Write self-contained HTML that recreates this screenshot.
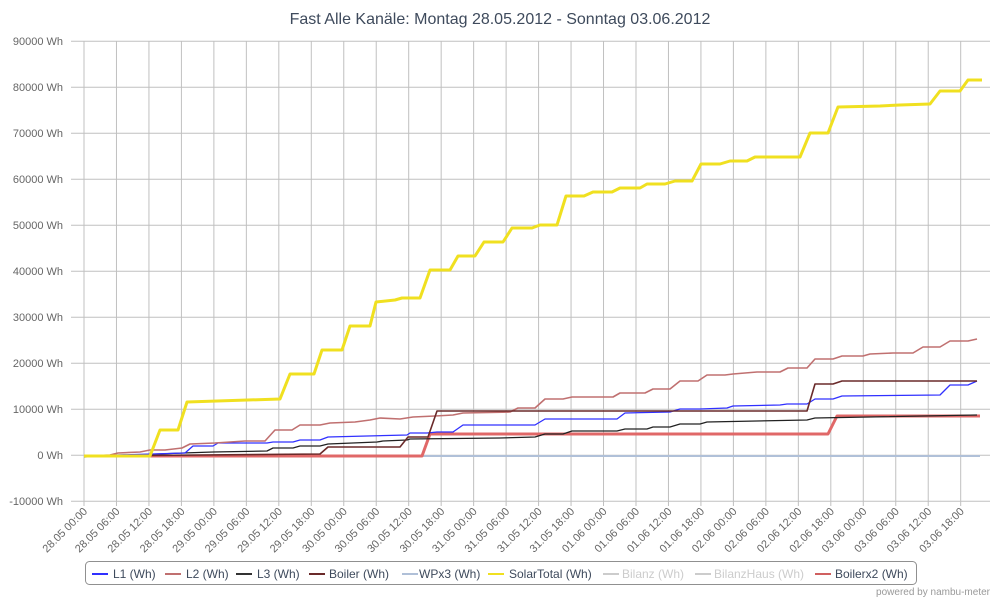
<!DOCTYPE html>
<html><head><meta charset="utf-8"><style>body{margin:0;background:#fff}svg{display:block;font-family:"Liberation Sans",sans-serif}</style></head><body>
<svg width="1000" height="600" xmlns="http://www.w3.org/2000/svg">
<text x="500" y="24" text-anchor="middle" font-size="16" fill="#3e4a5c">Fast Alle Kanäle: Montag 28.05.2012 - Sonntag 03.06.2012</text>
<g stroke="#c0c0c0" stroke-width="1">
<line x1="71" x2="990" y1="41.3" y2="41.3"/><line x1="71" x2="990" y1="87.3" y2="87.3"/><line x1="71" x2="990" y1="133.3" y2="133.3"/><line x1="71" x2="990" y1="179.3" y2="179.3"/><line x1="71" x2="990" y1="225.3" y2="225.3"/><line x1="71" x2="990" y1="271.3" y2="271.3"/><line x1="71" x2="990" y1="317.3" y2="317.3"/><line x1="71" x2="990" y1="363.3" y2="363.3"/><line x1="71" x2="990" y1="409.3" y2="409.3"/><line x1="71" x2="990" y1="455.3" y2="455.3"/><line x1="71" x2="990" y1="501.3" y2="501.3"/>
</g>
<g id="vg" stroke="#c0c0c0" stroke-width="1"></g>
<g font-size="11" fill="#666" text-anchor="end">
<text x="63" y="45">90000 Wh</text><text x="63" y="91">80000 Wh</text><text x="63" y="137">70000 Wh</text><text x="63" y="183">60000 Wh</text><text x="63" y="229">50000 Wh</text><text x="63" y="275">40000 Wh</text><text x="63" y="321">30000 Wh</text><text x="63" y="367">20000 Wh</text><text x="63" y="413">10000 Wh</text><text x="63" y="459">0 Wh</text><text x="63" y="505">-10000 Wh</text>
</g>
<g id="xl" font-size="11" fill="#666" text-anchor="end"></g>
<g fill="none" stroke-linejoin="round">
<polyline stroke="#b0c0d8" stroke-width="2" points="84,456 980,456"/>
<polyline stroke="#e06868" stroke-width="3" points="84,456 422,456 430,434 828,434 837,416 980,416"/>
<polyline stroke="#222" stroke-width="1.3" points="84,457 183,453 213,452 267,451 273,448 293,448 300,446 320,446 328,444 377,442 383,441 407,440 410,439 500,438 535,437 545,434 563,434 572,431 617,431 625,429 647,429 653,427 670,427 680,424 700,424 707,422 807,420 815,418 977,415"/>
<polyline stroke="#3030ff" stroke-width="1.3" points="84,456 185,453 193,446 213,446 218,443 267,443 273,442 293,442 300,440 320,440 328,437 407,435 410,433 427,433 437,432 453,432 463,425 535,425 545,419 617,419 625,413 670,412 680,409 700,409 727,408 733,406 780,405 787,404 807,404 815,399 833,399 842,396 940,395 950,385 968,385 977,381"/>
<polyline stroke="#c07070" stroke-width="1.6" points="84,456 110,455 118,453 140,452 150,450 165,450 182,448 190,444 215,443 245,441 265,441 275,430 292,430 300,425 320,425 330,423 355,422 370,420 380,418 400,419 413,417 435,416 453,415 463,413 510,412 518,408 535,408 545,399 563,399 572,397 613,397 620,393 645,393 653,389 670,389 680,381 698,381 707,375 725,375 733,374 757,372 780,372 788,368 807,368 815,359 833,359 842,356 863,356 870,354 893,353 913,353 923,347 940,347 950,341 968,341 977,339"/>
<polyline stroke="#6a2a2a" stroke-width="1.6" points="84,456 320,454 328,447 400,447 408,437 428,437 437,411 807,411 815,384 833,384 842,381 977,381"/>
<polyline stroke="#f0e020" stroke-width="3" points="84,456 150,456 160,430 178,430 187,402 280,399 290,374 314,374 322,350 342,350 350,326 370,326 376,302 395,300 402,298 420,298 430,270 450,270 458,256 475,256 484,242 503,242 512,228 532,228 540,225 557,225 566,196 584,196 593,192 612,192 620,188 640,188 647,184 665,184 675,181 692,181 701,164 720,164 730,161 747,161 755,157 800,157 810,133 828,133 838,107 880,106 900,105 930,104 940,91 960,91 968,80 982,80"/>
</g>
<rect x="85.5" y="561.5" width="831" height="23" rx="4" fill="none" stroke="#909090"/>
<g font-size="12" fill="#3e4a5c">
<line x1="92" x2="108" y1="574" y2="574" stroke="#3030ff" stroke-width="2"/><text x="113" y="578">L1 (Wh)</text>
<line x1="165" x2="181" y1="574" y2="574" stroke="#c07070" stroke-width="2"/><text x="186" y="578">L2 (Wh)</text>
<line x1="236" x2="252" y1="574" y2="574" stroke="#333" stroke-width="2"/><text x="257" y="578">L3 (Wh)</text>
<line x1="309" x2="325" y1="574" y2="574" stroke="#6a2a2a" stroke-width="2"/><text x="329" y="578">Boiler (Wh)</text>
<line x1="402" x2="418" y1="574" y2="574" stroke="#b0c0d8" stroke-width="2"/><text x="419" y="578">WPx3 (Wh)</text>
<line x1="488" x2="504" y1="574" y2="574" stroke="#f0e020" stroke-width="2"/><text x="509" y="578">SolarTotal (Wh)</text>
<line x1="603" x2="619" y1="574" y2="574" stroke="#ccc" stroke-width="2"/><text x="622" y="578" fill="#ccc">Bilanz (Wh)</text>
<line x1="695" x2="711" y1="574" y2="574" stroke="#ccc" stroke-width="2"/><text x="714" y="578" fill="#ccc">BilanzHaus (Wh)</text>
<line x1="815" x2="831" y1="574" y2="574" stroke="#d06060" stroke-width="2"/><text x="835" y="578">Boilerx2 (Wh)</text>
</g>
<text x="990" y="595" text-anchor="end" font-size="10" fill="#999">powered by nambu-meter</text>
<script>
var vg=document.getElementById('vg'),xl=document.getElementById('xl'),ns='http://www.w3.org/2000/svg';
var days=['28.05','29.05','30.05','31.05','01.06','02.06','03.06'],hh=['00:00','06:00','12:00','18:00'];
for(var i=0;i<28;i++){var x=84+i*32.47;
var l=document.createElementNS(ns,'line');l.setAttribute('x1',x);l.setAttribute('x2',x);l.setAttribute('y1',41);l.setAttribute('y2',506);vg.appendChild(l);
var t=document.createElementNS(ns,'text');t.setAttribute('transform','translate('+(x+4)+',512) rotate(-45)');t.textContent=days[Math.floor(i/4)]+' '+hh[i%4];xl.appendChild(t);}
</script>
</svg>
</body></html>
